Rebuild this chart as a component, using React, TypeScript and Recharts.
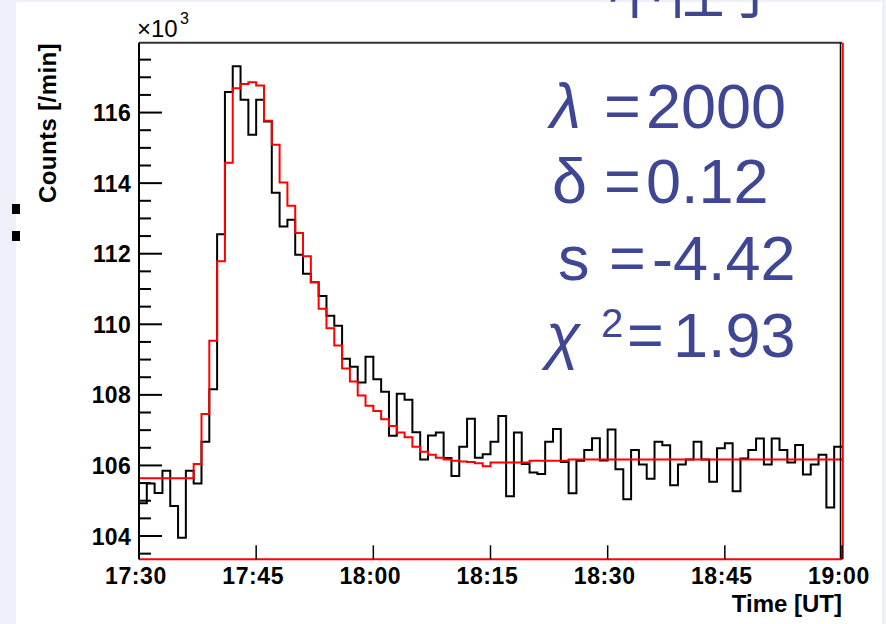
import React from 'react';
import { ComposedChart, Line, XAxis, YAxis, ReferenceLine } from 'recharts';

// One-minute bins, offsets in minutes from 17:30 UT
const binCount = 90;
const binStartMinutes: number[] = Array.from({ length: binCount }, (_, i) => i);

// Measured neutron counts per minute
const measuredCounts: number[] = [
  104930, 105490, 105220, 105850, 104850, 103950, 105850, 105490, 106670, 108160,
  112550, 116580, 117310, 116360, 115370, 116360, 115750, 113730, 112770, 112960,
  111970, 111430, 111190, 110800, 110240, 109960, 109020, 108800, 108350, 109080,
  108440, 108090, 106840, 108030, 107860, 106940, 106170, 106850, 106930, 106210,
  105700, 106530, 107320, 106220, 106320, 106670, 107400, 105130, 106930, 106040,
  105800, 105760, 106670, 107030, 106100, 105210, 106130, 106440, 106770, 106140,
  107020, 105890, 105040, 106440, 106030, 105620, 106670, 106570, 105440, 106030,
  106170, 106670, 106170, 105540, 106490, 106630, 105270, 106200, 106440, 106760,
  106030, 106760, 106440, 106080, 106580, 105740, 106030, 106300, 104810, 106530,
];

// Fitted model counts per minute
const fitCounts: number[] = [
  105640, 105640, 105640, 105640, 105640, 105640, 105640, 106040, 107460, 109530,
  111790, 114580, 116690, 116810, 116860, 116770, 115770, 115090, 114020, 113360,
  112590, 111930, 111190, 110440, 109890, 109400, 108750, 108380, 107980, 107690,
  107540, 107310, 107120, 106930, 106800, 106530, 106390, 106300, 106220, 106170,
  106130, 106110, 106100, 106060, 105980, 106080, 106080, 106080, 106080, 106080,
  106130, 106130, 106130, 106130, 106130, 106170, 106170, 106170, 106170, 106170,
  106170, 106170, 106170, 106170, 106170, 106170, 106170, 106170, 106170, 106170,
  106170, 106170, 106170, 106170, 106170, 106170, 106170, 106170, 106170, 106170,
  106170, 106170, 106170, 106170, 106170, 106170, 106170, 106170, 106170, 106170,
];

const timeTicks: number[] = [0, 15, 30, 45, 60, 75, 90];
const timeTickLabels: string[] = ['17:30', '17:45', '18:00', '18:15', '18:30', '18:45', '19:00'];

const countMajorTicks: number[] = [104000, 106000, 108000, 110000, 112000, 114000, 116000];
const countDomain: [number, number] = [103340, 117980];
// secondary ticks every 500 counts between the labelled ones
const countTicks: number[] = [];
for (let v = 103500; v <= 117500; v += 500) countTicks.push(v);

const fitParams: { symbol: string; value: string; italic: boolean }[] = [
  { symbol: 'λ', value: '2000', italic: true },
  { symbol: 'δ', value: '0.12', italic: false },
  { symbol: 's', value: '-4.42', italic: false },
  { symbol: 'χ', value: '1.93', italic: true },
];

// histogram table: one row per bin edge, the last edge repeats the last bin
const rows = [...binStartMinutes, binCount].map((t, i) => {
  const k = Math.min(i, binCount - 1);
  return { t, measured: measuredCounts[k], fit: fitCounts[k] };
});

const W = 886;
const H = 624;
const rootFont = '"Liberation Sans", Arial, Helvetica, sans-serif';
const slideBlue = '#3f4795';

function CountsTick(props: any) {
  const { x, y, payload } = props;
  const v = payload.value as number;
  const major = countMajorTicks.includes(v);
  return (
    <g>
      <line x1={x} y1={y} x2={x + (major ? 23 : 12)} y2={y} stroke="#000" strokeWidth={2} />
      {major && (
        <text
          x={x - 8}
          y={y + 8.5}
          textAnchor="end"
          fontFamily={rootFont}
          fontWeight="bold"
          fontSize={23}
          letterSpacing={0.3}
          fill="#000"
        >
          {v / 1000}
        </text>
      )}
    </g>
  );
}

function TimeTick(props: any) {
  const { x, y, payload } = props;
  const idx = timeTicks.indexOf(payload.value);
  return (
    <g>
      <line x1={x} y1={y} x2={x} y2={y - 14} stroke="#000" strokeWidth={1.5} />
      <text
        x={x - 3}
        y={y + 25}
        textAnchor="middle"
        fontFamily={rootFont}
        fontWeight="bold"
        fontSize={23}
        letterSpacing={0.6}
        fill="#000"
      >
        {idx >= 0 ? timeTickLabels[idx] : ''}
      </text>
    </g>
  );
}

// right frame edge: thin black border with the red fit edge beside it
function RightEdge(props: any) {
  const { x1, y1, x2, y2 } = props;
  return (
    <g>
      <line x1={x1 - 1.5} y1={y1} x2={x2 - 1.5} y2={y2} stroke="#000" strokeWidth={1.5} />
      <line x1={x1 + 0.8} y1={y1} x2={x2 + 0.8} y2={y2} stroke="#ff0000" strokeWidth={2} />
    </g>
  );
}

const lineBaselines = [128, 203, 280, 357];
const symbolX = [550, 552, 558, 546];
const equalsX = [604, 604, 609, 627];
const valueX = [646, 646, 652, 673];

export default function App() {
  return (
    <div
      style={{
        position: 'absolute',
        left: 0,
        top: 0,
        width: W,
        height: H,
        overflow: 'hidden',
        background: '#eef0f9',
      }}
    >
      <div style={{ position: 'absolute', left: 16, top: 2, width: 866, height: 622, background: '#ffffff' }} />

      {/* slide bullets and the title running off the top edge */}
      <svg style={{ position: 'absolute', left: 0, top: 0 }} width={W} height={H}>
        <rect x={12} y={204} width={8} height={10} fill="#000" />
        <rect x={12} y={231} width={8} height={10} fill="#000" />
        <text x={605} y={13} fontFamily='"Noto Sans CJK JP", sans-serif' fontSize={60} fill={slideBlue}>
          中性子
        </text>
      </svg>

      <div style={{ position: 'absolute', left: 0, top: 0 }}>
        <ComposedChart width={W} height={H} data={rows} margin={{ top: 42.7, right: 44, bottom: 0, left: 0 }}>
          <XAxis
            type="number"
            dataKey="t"
            domain={[0, binCount]}
            ticks={timeTicks}
            interval={0}
            height={64.7}
            tickSize={0}
            tickMargin={0}
            tickLine={false}
            axisLine={{ stroke: '#ff0000', strokeWidth: 2 }}
            tick={TimeTick}
            allowDataOverflow
          />
          <YAxis
            type="number"
            domain={countDomain}
            ticks={countTicks}
            interval={0}
            width={139}
            tickSize={0}
            tickMargin={0}
            tickLine={false}
            axisLine={{ stroke: '#000', strokeWidth: 2 }}
            tick={CountsTick}
            allowDataOverflow
          />
          <ReferenceLine y={countDomain[1]} stroke="#333" strokeWidth={2} ifOverflow="visible" />
          <Line
            type="stepAfter"
            dataKey="measured"
            stroke="#000"
            strokeWidth={2}
            dot={false}
            activeDot={false}
            isAnimationActive={false}
          />
          <Line
            type="stepAfter"
            dataKey="fit"
            stroke="#ff0000"
            strokeWidth={2}
            dot={false}
            activeDot={false}
            isAnimationActive={false}
          />
          <ReferenceLine x={binCount} ifOverflow="visible" shape={RightEdge} />
        </ComposedChart>
      </div>

      <svg style={{ position: 'absolute', left: 0, top: 0, pointerEvents: 'none' }} width={W} height={H}>
        {/* axis titles and exponent */}
        <text x={137} y={37} fontFamily={rootFont} fontSize={24} fill="#000">
          ×10
        </text>
        <text x={180} y={24} fontFamily={rootFont} fontSize={16} fill="#000">
          3
        </text>
        <text
          transform="translate(56,123) rotate(-90)"
          textAnchor="middle"
          fontFamily={rootFont}
          fontWeight="bold"
          fontSize={24}
          letterSpacing={0.4}
          fill="#000"
        >
          Counts [/min]
        </text>
        <text x={842} y={612} textAnchor="end" fontFamily={rootFont} fontWeight="bold" fontSize={24} fill="#000">
          Time [UT]
        </text>

        {/* fit parameters */}
        {fitParams.map((p, i) => (
          <g key={p.symbol} fontFamily={rootFont} fontSize={63} fill={slideBlue}>
            <text x={symbolX[i]} y={lineBaselines[i]} fontStyle={p.italic ? 'italic' : 'normal'}>
              {p.symbol}
            </text>
            {p.symbol === 'χ' && (
              <text x={601} y={337} fontSize={40}>2</text>
            )}
            <text x={equalsX[i]} y={lineBaselines[i]}>=</text>
            <text x={valueX[i]} y={lineBaselines[i]}>{p.value}</text>
          </g>
        ))}
      </svg>
    </div>
  );
}
